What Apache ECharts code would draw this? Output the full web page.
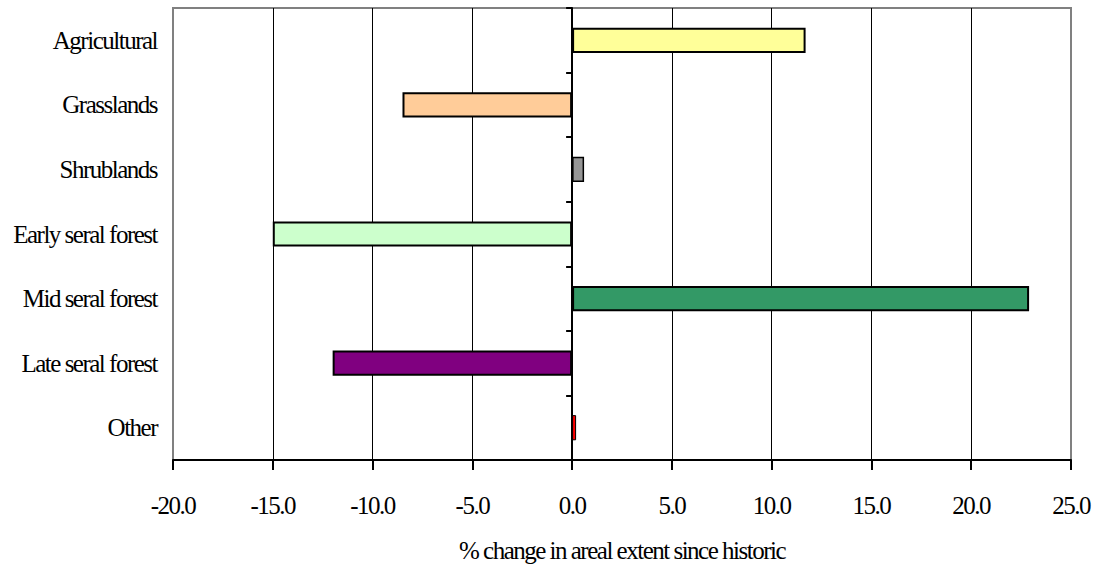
<!DOCTYPE html>
<html>
<head>
<meta charset="utf-8">
<script src="https://cdn.jsdelivr.net/npm/echarts@6/dist/echarts.min.js"></script>
<style>
  html, body { margin: 0; padding: 0; background: #fff; }
  #chart { width: 1097px; height: 569px; }
  #chart text { letter-spacing: -1.5px; }
</style>
</head>
<body>
<div id="chart"></div>
<script>
// Categories listed bottom-to-top (ECharts category y axis starts at the bottom)
const categories = ['Other', 'Late seral forest', 'Mid seral forest', 'Early seral forest', 'Shrublands', 'Grasslands', 'Agricultural'];
const values = [0.2, -12.0, 22.9, -15.0, 0.6, -8.5, 11.7];
const barColors = ['#FF0000', '#800080', '#339966', '#CCFFCC', '#969696', '#FFCC99', '#FFFF99'];
const xTickLabels = ['-20.0', '-15.0', '-10.0', '-5.0', '0.0', '5.0', '10.0', '15.0', '20.0', '25.0'];
const xAxisTitle = '% change in areal extent since historic';

const FONT = 'Liberation Serif';

const chart = echarts.init(document.getElementById('chart'), null, { renderer: 'svg' });

const gridColors = xTickLabels.map((_, i) => (i === 0 || i === xTickLabels.length - 1) ? '#808080' : '#000000');

chart.setOption({
  animation: false,
  backgroundColor: '#ffffff',
  grid: {
    left: 173, right: 26, top: 8, bottom: 109,
    containLabel: false,
    outerBoundsMode: 'none',
    show: true, borderColor: '#808080', borderWidth: 2, backgroundColor: 'transparent'
  },
  xAxis: {
    type: 'value',
    min: -20, max: 25, interval: 5,
    axisLine: { show: true, onZero: false, lineStyle: { color: '#000', width: 2 } },
    axisTick: { show: true, length: 10, lineStyle: { color: '#000', width: 2 } },
    axisLabel: {
      color: '#000', fontFamily: FONT, fontSize: 25, margin: 33,
      formatter: (v) => xTickLabels[Math.round((v + 20) / 5)]
    },
    splitLine: { show: true, lineStyle: { color: gridColors, width: 1 } },
    name: xAxisTitle,
    nameLocation: 'middle',
    nameGap: 78,
    nameTextStyle: { color: '#000', fontFamily: FONT, fontSize: 25 }
  },
  yAxis: [
    {
      type: 'category',
      data: categories,
      position: 'left',
      axisLine: { show: false, onZero: false },
      axisTick: { show: false },
      axisLabel: { color: '#000', fontFamily: FONT, fontSize: 25, margin: 16 },
      splitLine: { show: false }
    },
    {
      type: 'category',
      data: categories,
      position: 'left',
      axisLine: { show: true, onZero: true, lineStyle: { color: '#000', width: 2 } },
      axisTick: { show: true, length: 6, lineStyle: { color: '#000', width: 2 } },
      axisLabel: { show: false },
      splitLine: { show: false }
    }
  ],
  series: [{
    type: 'bar',
    yAxisIndex: 0,
    barCategoryGap: '61%',
    data: values.map((v, i) => ({
      value: v,
      itemStyle: {
        color: barColors[i],
        borderColor: '#000',
        borderWidth: Math.abs(v) < 0.5 ? 1 : (Math.abs(v) < 1 ? 1.5 : 2)
      }
    })),
    z: 3
  }]
});
</script>
</body>
</html>
